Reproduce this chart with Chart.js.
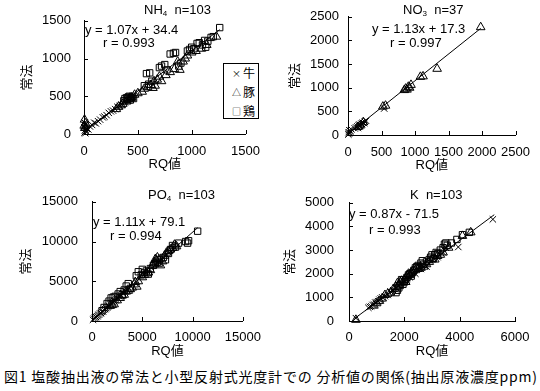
<!DOCTYPE html>
<html lang="ja">
<head>
<meta charset="UTF-8">
<title>図1 塩酸抽出液の常法と小型反射式光度計での分析値の関係</title>
<script src="https://cdn.jsdelivr.net/npm/chart.js"></script>
<style>
  body { margin: 0; background: #fff; }
  #wrap { position: relative; width: 540px; height: 391px; overflow: hidden; background: #fff; }
  canvas { position: absolute; }
  .txt { position: absolute; font-family: 'Liberation Sans', 'Noto Sans CJK JP', sans-serif; font-size: 13px; line-height: 16px; color: #000; white-space: pre; }
  .txt sub { font-size: 8px; vertical-align: -2px; line-height: 0; }
  #legend { position: absolute; left: 223px; top: 63px; width: 34px; height: 54px; border: 1px solid #000; background: #fff;
            font-family: 'Noto Sans CJK JP', sans-serif; font-size: 12px; line-height: 18px; }
  #legend div { padding-left: 8px; white-space: nowrap; }
  #legend span { display: inline-block; width: 11px; font-size: 9px; vertical-align: 1px; }
  #caption { position: absolute; left: 4px; top: 366px; font-family: 'Noto Sans CJK JP', sans-serif; font-size: 14px; line-height: 20px; letter-spacing: 0.8px; white-space: nowrap; }
</style>
</head>
<body>
<div id="wrap">
  <canvas id="cNH4" width="270" height="180" style="left:0;top:0"></canvas>
  <canvas id="cNO3" width="270" height="180" style="left:270px;top:0"></canvas>
  <canvas id="cPO4" width="270" height="180" style="left:0;top:180px"></canvas>
  <canvas id="cK" width="270" height="180" style="left:270px;top:180px"></canvas>

  <div class="txt" style="left:144px;top:2px">NH<sub>4</sub>  n=103</div>
  <div class="txt" style="left:85px;top:22px">y = 1.07x + 34.4</div>
  <div class="txt" style="left:103px;top:35px">r = 0.993</div>

  <div class="txt" style="left:403px;top:2px">NO<sub>3</sub>  n=37</div>
  <div class="txt" style="left:372px;top:21px">y = 1.13x + 17.3</div>
  <div class="txt" style="left:390px;top:35px">r = 0.997</div>

  <div class="txt" style="left:148px;top:187px">PO<sub>4</sub>  n=103</div>
  <div class="txt" style="left:93px;top:214px">y = 1.11x + 79.1</div>
  <div class="txt" style="left:110px;top:228px">r = 0.994</div>

  <div class="txt" style="left:410px;top:187px">K  n=103</div>
  <div class="txt" style="left:349px;top:206px">y = 0.87x - 71.5</div>
  <div class="txt" style="left:369px;top:222px">r = 0.993</div>

  <div id="legend">
    <div><span>×</span>牛</div>
    <div><span>△</span>豚</div>
    <div><span>□</span>鶏</div>
  </div>

  <div id="caption">図1 塩酸抽出液の常法と小型反射式光度計での 分析値の関係(抽出原液濃度ppm)</div>
</div>

<script>
// --- NH4 (n=103) ---
const nh4Cow = [[5,20],[8,45],[12,10],[15,60],[3,90],[10,120],[20,35],[6,150],[25,70],[40,60],
  [55,100],[75,120],[95,150],[110,140],[130,170],[150,190],[175,220],[190,230],[210,250],[230,280],
  [250,300],[270,310],[290,330],[310,360],[330,370],[350,390],[380,420],[410,440],[430,470],[450,480]];
const nh4Pig = [[5,190],[2,110],[8,80],[15,140],[300,330],[320,360],[345,380],[360,400],[395,430],[420,460],
  [440,480],[470,520],[500,540],[540,560],[560,600],[590,620],[620,650],[640,610],[650,700],[660,640],
  [680,720],[700,760],[720,700],[760,780],[800,820],[840,860],[870,960],[890,850],[920,960],[940,1000],
  [960,1040],[1000,1080],[1040,1100],[1090,1130],[1140,1180],[1230,1290]];
const nh4Hen = [[380,470],[395,480],[405,460],[410,490],[420,500],[430,450],[440,480],[450,500],[460,470],[370,440],
  [560,640],[600,660],[580,800],[610,810],[630,700],[700,880],[720,900],[750,920],[770,850],[800,1060],
  [830,1070],[850,1080],[880,900],[900,940],[960,1100],[980,1120],[1000,1150],[1020,1130],[1050,1200],[1070,1210],
  [1100,1180],[1120,1240],[1130,1150],[1180,1280],[1200,1290],[1150,1230],[1260,1410]];
const nh4Fit = [1.07, 34.4];
const nh4Range = [0, 1260];
const nh4XTicks = [0, 1500, 500];   // min, max, step
const nh4YTicks = [0, 1500, 500];

// --- NO3 (n=37) ---
const no3Cow = [[5,10],[10,60],[15,30],[20,100],[30,50],[40,80],[50,120],[100,140],[120,160],[140,180],
  [150,150],[160,200],[170,220],[180,190],[190,210],[200,240],[210,230],[220,260],[240,250],[250,280],
  [270,300],[540,560]];
const no3Pig = [[150,170],[180,200],[230,270],[520,600],[560,620],[840,950],[860,980],[880,960],[900,1020],[920,1000],
  [940,1060],[1080,1230],[1120,1240],[1330,1400],[1980,2280]];
const no3Hen = [];
const no3Fit = [1.13, 17.3];
const no3Range = [0, 1980];
const no3XTicks = [0, 2500, 500];
const no3YTicks = [0, 2500, 500];

// --- PO4 (n=103) ---
const po4Cow = [[100,150],[200,300],[300,420],[400,500],[500,600],[600,700],[700,800],[800,950],[900,1000],[1000,1150],
  [1100,1200],[1200,1400],[1300,1500],[1400,1600],[1500,1700],[1600,1800],[1700,1900],[1800,2100],[1900,2200],[2000,2300],
  [2100,2350],[2200,2500],[2300,2600],[2400,2700],[2500,2900],[2700,3100],[2900,3200],[3100,3500],[3300,3700],[3500,3900]];
const po4Pig = [[1800,1900],[2000,2000],[2200,2100],[2500,2600],[2800,2900],[3000,3200],[3200,3300],[3400,3700],[3600,3800],[3800,4000],
  [4000,4200],[4200,4600],[4450,4320],[4300,4900],[4600,5000],[5000,5500],[5200,5800],[5400,6000],[5600,6100],[5800,6400],
  [6000,7000],[6200,7400],[6400,7600],[6600,7200],[6800,7000],[7000,7500],[6500,8000],[6300,7800],[7200,8200],[7400,8600],
  [7600,8800],[7800,9000],[8000,9200],[8200,9600],[8400,9400]];
const po4Hen = [[1000,1300],[1200,1700],[1500,2200],[1700,2500],[1900,2900],[2100,3000],[2300,3100],[2600,3400],[2800,3700],[3000,3300],
  [3200,3900],[3400,4400],[3600,4700],[3800,4100],[4400,5700],[4600,6200],[4900,5800],[5000,6500],[5200,6100],[5400,6300],
  [5600,5900],[5800,6600],[6100,7000],[6300,7200],[6500,7400],[6700,7700],[6900,7900],[7100,8000],[7300,7700],[7600,8500],
  [7800,9000],[8000,9500],[8300,9300],[8600,9800],[9300,10000],[9500,9800],[9600,10100],[10500,11300]];
const po4Fit = [1.11, 79.1];
const po4Range = [0, 10500];
const po4XTicks = [0, 15000, 5000];
const po4YTicks = [0, 15000, 5000];

// --- K (n=103) ---
const kCow = [[250,120],[700,560],[750,600],[800,620],[850,680],[900,700],[950,780],[1000,800],[1050,840],[1100,900],
  [1150,950],[1200,1000],[1300,1050],[1400,1100],[1500,1250],[1600,1300],[1700,1400],[1800,1500],[1900,1600],[2000,1700],
  [2100,1800],[2200,1850],[2400,2000],[2600,2200],[2800,2300],[3200,2700],[3400,2900],[3500,3100],[3950,3130],[5200,4300]];
const kPig = [[250,50],[900,650],[1000,750],[1100,850],[1200,950],[1300,1100],[1400,1150],[1500,1200],[1600,1350],[1700,1450],
  [1750,1600],[1800,1550],[1850,1650],[1900,1700],[2000,1750],[2050,1650],[2100,1900],[2150,2000],[2200,1950],[2250,2050],
  [2300,2100],[2400,2150],[2500,2200],[2600,2250],[2700,2300],[2800,2400],[2900,2500],[3000,2600],[3100,2600],[3200,2750],
  [3300,2800],[3400,2900],[3600,3100],[4100,3600],[4400,3750]];
const kHen = [[1700,1200],[1750,1300],[1800,1400],[1850,1500],[1900,1750],[1950,1550],[2000,1650],[2050,1750],[2100,1850],[2150,1950],
  [2200,2000],[2250,1900],[2300,2050],[2350,2150],[2400,2250],[2450,2300],[2500,2350],[2550,2250],[2600,2450],[2650,2550],
  [2700,2400],[2800,2500],[2900,2600],[2950,2700],[3000,2800],[3050,2650],[3100,2800],[3150,2900],[3200,2850],[3300,3000],
  [3400,3100],[3450,3250],[3500,3300],[3550,3200],[3700,3300],[3900,3450],[4100,3650],[4350,3750]];
const kFit = [0.87, -71.5];
const kRange = [200, 5250];
const kXTicks = [0, 6000, 2000];
const kYTicks = [0, 5000, 1000];

const xTitle = 'RQ値';
const yTitle = '常法';

const FONT = { family: "'Liberation Sans', 'Noto Sans CJK JP', sans-serif", size: 13 };

// short tick marks drawn inside the plot, like the original
const innerTicks = {
  id: 'innerTicks',
  afterDraw(chart) {
    const { ctx, chartArea: a, scales: { x, y } } = chart;
    ctx.save();
    ctx.strokeStyle = '#000';
    ctx.lineWidth = 1;
    ctx.beginPath();
    x.ticks.forEach(t => {
      const px = Math.round(x.getPixelForValue(t.value)) + 0.5;
      ctx.moveTo(px, a.bottom);
      ctx.lineTo(px, a.bottom - 4);
    });
    y.ticks.forEach(t => {
      const py = Math.round(y.getPixelForValue(t.value)) + 0.5;
      ctx.moveTo(a.left, py);
      ctx.lineTo(a.left + 4, py);
    });
    ctx.stroke();
    ctx.restore();
  }
};

function pts(arr) { return arr.map(p => ({ x: p[0], y: p[1] })); }
function fitLine(coef, range) { return range.map(v => ({ x: v, y: coef[0] * v + coef[1] })); }
const plain = v => String(v);   // no thousands separator

function marks(data, style, r) {
  return { data: pts(data), pointStyle: style, pointRadius: r, borderColor: '#000',
           backgroundColor: 'rgba(0,0,0,0)', borderWidth: 1, clip: false };
}

function makeChart(id, cow, pig, hen, fit, range, xt, yt, L) {
  new Chart(document.getElementById(id), {
    type: 'scatter',
    data: {
      datasets: [
        { type: 'line', data: fitLine(fit, range), borderColor: '#000', borderWidth: 1,
          pointRadius: 0, fill: false, clip: false },
        marks(cow, 'crossRot', 4.5),
        marks(pig, 'triangle', 5),
        marks(hen, 'rect', 4.5)
      ]
    },
    options: {
      responsive: false,
      animation: false,
      devicePixelRatio: 1,
      layout: { padding: L.pad },
      plugins: { legend: { display: false }, tooltip: { enabled: false } },
      scales: {
        x: {
          type: 'linear', min: xt[0], max: xt[1],
          grid: { display: false, drawTicks: false },
          border: { color: '#000', width: 1 },
          ticks: { stepSize: xt[2], autoSkip: false, maxRotation: 0, color: '#000', font: FONT,
                   padding: L.xTick, callback: plain },
          title: { display: true, text: xTitle, color: '#000', font: FONT, padding: { top: 0, bottom: L.xTitle } },
          afterFit: s => { s.height = L.xH; }
        },
        y: {
          type: 'linear', min: yt[0], max: yt[1],
          grid: { display: false, drawTicks: false },
          border: { color: '#000', width: 1 },
          ticks: { stepSize: yt[2], color: '#000', font: FONT, padding: L.yTick, callback: plain },
          title: { display: true, text: yTitle, color: '#000', font: FONT, padding: { top: L.yTitle, bottom: 0 } },
          afterFit: s => { s.width = L.yW; }
        }
      }
    },
    plugins: [innerTicks]
  });
}

makeChart('cNH4', nh4Cow, nh4Pig, nh4Hen, nh4Fit, nh4Range, nh4XTicks, nh4YTicks,
  { pad: { left: 0, top: 10, right: 22, bottom: 0 }, yW: 84, xH: 46, yTick: 13, xTick: 10, yTitle: 20, xTitle: 8 });
makeChart('cNO3', no3Cow, no3Pig, no3Hen, no3Fit, no3Range, no3XTicks, no3YTicks,
  { pad: { left: 0, top: 10, right: 23, bottom: 0 }, yW: 78, xH: 45, yTick: 9, xTick: 10, yTitle: 18, xTitle: 7 });
makeChart('cPO4', po4Cow, po4Pig, po4Hen, po4Fit, po4Range, po4XTicks, po4YTicks,
  { pad: { left: 0, top: 16, right: 23, bottom: 0 }, yW: 92, xH: 39, yTick: 14, xTick: 9, yTitle: 19, xTitle: 1 });
makeChart('cK', kCow, kPig, kHen, kFit, kRange, kXTicks, kYTicks,
  { pad: { left: 0, top: 16, right: 25, bottom: 0 }, yW: 79, xH: 39, yTick: 15, xTick: 9, yTitle: 13, xTitle: 1 });
</script>
</body>
</html>
